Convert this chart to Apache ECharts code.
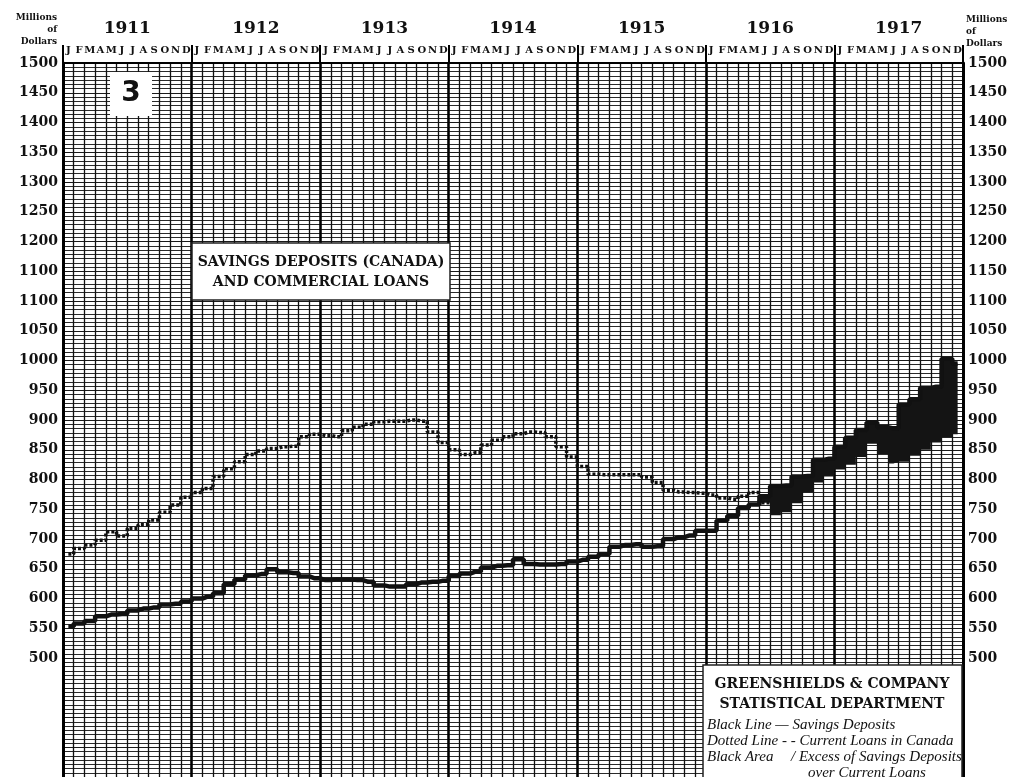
<!DOCTYPE html>
<html>
<head>
<meta charset="utf-8">
<title>Savings Deposits (Canada) and Commercial Loans</title>
<script src="https://cdn.jsdelivr.net/npm/echarts@6/dist/echarts.min.js"></script>
<style>
    html, body { margin:0; padding:0; background:#fff; }
    #main { width:1019px; height:777px; }
</style>
</head>
<body>
<div id="main"></div>
<script>
var years = ['1911','1912','1913','1914','1915','1916','1917'];
var monthLetters = ['J','F','M','A','M','J','J','A','S','O','N','D'];
// left scale as printed (1150 was printed as 1100)
var leftTicks = ['1500','1450','1400','1350','1300','1250','1200','1100','1100','1050','1000',
                 '950','900','850','800','750','700','650','600','550','500'];
var rightTicks = ['1500','1450','1400','1350','1300','1250','1200','1150','1100','1050','1000',
                  '950','900','850','800','750','700','650','600','550','500'];

// monthly values, Jan 1911 .. Dec 1917, millions of dollars
var savings = [
    553,558,562,570,573,574,580,583,585,590,591,595,
    600,603,609,624,632,639,641,649,644,643,637,634,
    631,632,632,631,628,622,620,620,624,627,628,630,
    638,642,645,652,655,656,666,658,657,657,658,662,
    665,670,675,687,690,691,687,688,700,703,706,714,
    714,731,739,752,758,772,789,790,805,806,833,835,
    855,870,883,896,888,886,926,935,954,956,1003,995
];
var loans = [
    675,684,690,698,712,705,718,724,732,745,757,770,
    778,785,805,818,830,842,848,852,855,856,872,876,
    874,872,882,888,893,897,898,898,900,898,880,862,
    850,842,845,858,866,872,877,880,879,872,855,838,
    822,809,808,808,808,808,804,795,782,779,778,777,
    774,769,767,772,778,761,740,745,760,778,795,805,
    817,825,838,860,843,827,830,840,850,862,871,876
];

// category keys for each month, label shows only the letter
var monthKeys = [];
years.forEach(function (y) {
    monthLetters.forEach(function (m, i) { monthKeys.push(y + '-' + i); });
});

// black area = excess of savings over loans, stacked on the lower of the two
var areaBase = savings.map(function (s, i) { return Math.min(s, loans[i]); });
var areaExcess = savings.map(function (s, i) { return Math.max(s - loans[i], 0); });
// the dotted line disappears into the black area once savings pass loans
var loansLine = loans.map(function (v, i) { return i <= 65 ? v : null; });

var serif = 'DejaVu Serif';
var myChart = echarts.init(document.getElementById('main'));

myChart.setOption({
    backgroundColor: '#fff',
    animation: false,
    grid: { left: 63, right: 56, top: 63, height: 717 },
    xAxis: [
        {   // months
            type: 'category',
            position: 'top',
            data: monthKeys,
            boundaryGap: true,
            axisLine: { show: true, lineStyle: { color: '#000', width: 2 } },
            axisTick: { show: false },
            axisLabel: {
                interval: 0, margin: 8,
                fontFamily: serif, fontWeight: 'bold', fontSize: 10, color: '#111',
                formatter: function (v, idx) { return monthLetters[idx % 12]; }
            },
            splitLine: { show: true, interval: 0, lineStyle: { color: '#111', width: 1.3 } }
        },
        {   // year boundaries
            type: 'value',
            position: 'top',
            min: 0, max: 84, interval: 12,
            axisLine: { show: false },
            axisTick: { show: true, inside: false, length: 18, lineStyle: { color: '#000', width: 2 } },
            axisLabel: { show: false },
            splitLine: { show: true, lineStyle: { color: '#000', width: 2.5 } }
        },
        {   // years
            type: 'category',
            position: 'top',
            offset: 22,
            data: years,
            axisLine: { show: false },
            axisTick: { show: false },
            axisLabel: { interval: 0, margin: 4, fontFamily: serif, fontWeight: 'bold', fontSize: 17, color: '#111' },
            splitLine: { show: false }
        }
    ],
    yAxis: [
        {
            type: 'value',
            min: 300, max: 1500, interval: 50,
            axisLine: { show: true, lineStyle: { color: '#000', width: 3 } },
            axisTick: { show: false },
            axisLabel: {
                margin: 5, fontFamily: serif, fontWeight: 'bold', fontSize: 14, color: '#111',
                formatter: function (v) {
                    if (v < 500) return '';
                    return leftTicks[Math.round((1500 - v) / 50)];
                }
            },
            splitLine: { show: true, lineStyle: { color: '#1a1a1a', width: 1.1 } },
            minorTick: { show: false, splitNumber: 7 },
            minorSplitLine: { show: true, lineStyle: { color: '#2a2a2a', width: 1.1 } }
        },
        {
            type: 'value',
            position: 'right',
            min: 300, max: 1500, interval: 50,
            axisLine: { show: true, lineStyle: { color: '#000', width: 3 } },
            axisTick: { show: false },
            axisLabel: {
                margin: 5, fontFamily: serif, fontWeight: 'bold', fontSize: 14, color: '#111',
                formatter: function (v) {
                    if (v < 500) return '';
                    return rightTicks[Math.round((1500 - v) / 50)];
                }
            },
            splitLine: { show: false }
        }
    ],
    series: [
        {
            name: 'base',
            type: 'line',
            stack: 'gap',
            step: 'middle',
            data: areaBase,
            showSymbol: false,
            lineStyle: { width: 0, opacity: 0 },
            silent: true,
            z: 3
        },
        {
            name: 'Excess of Savings Deposits over Current Loans',
            type: 'line',
            stack: 'gap',
            step: 'middle',
            data: areaExcess,
            showSymbol: false,
            lineStyle: { width: 0 },
            areaStyle: { color: '#141414', opacity: 1 },
            z: 3
        },
        {
            name: 'Current Loans in Canada',
            type: 'line',
            step: 'middle',
            data: loansLine,
            showSymbol: false,
            lineStyle: { color: '#111', width: 3.5, type: [3, 2] },
            z: 4
        },
        {
            name: 'Savings Deposits',
            type: 'line',
            step: 'middle',
            data: savings,
            showSymbol: false,
            lineStyle: { color: '#111', width: 4.5 },
            z: 5
        }
    ],
    graphic: [
        // "Millions of Dollars" captions
        { type: 'text', x: 57, y: 12, z: 100,
          style: { text: 'Millions\nof\nDollars', align: 'right', fill: '#111',
                   font: 'bold 9px "DejaVu Serif"', lineHeight: 12 } },
        { type: 'text', x: 966, y: 14, z: 100,
          style: { text: 'Millions\nof\nDollars', align: 'left', fill: '#111',
                   font: 'bold 9px "DejaVu Serif"', lineHeight: 12 } },
        // chart number
        { type: 'rect', shape: { x: 110, y: 72, width: 42, height: 44 }, z: 100,
          style: { fill: '#fff' } },
        { type: 'text', x: 131, y: 94, z: 101,
          style: { text: '3', align: 'center', verticalAlign: 'middle', fill: '#111',
                   font: 'bold 28px "DejaVu Sans"' } },
        // title box
        { type: 'rect', shape: { x: 192, y: 243, width: 258, height: 57 }, z: 100,
          style: { fill: '#fff', stroke: '#222', lineWidth: 1.5 } },
        { type: 'text', x: 321, y: 272, z: 101,
          style: { text: 'SAVINGS DEPOSITS (CANADA)\nAND COMMERCIAL LOANS', align: 'center',
                   verticalAlign: 'middle', fill: '#111', lineHeight: 20,
                   font: 'bold 14px "DejaVu Serif"' } },
        // legend / credit box
        { type: 'rect', shape: { x: 703, y: 665, width: 259, height: 120 }, z: 100,
          style: { fill: '#fff', stroke: '#222', lineWidth: 1.5 } },
        { type: 'text', x: 832, y: 684, z: 101,
          style: { text: 'GREENSHIELDS & COMPANY', align: 'center', verticalAlign: 'middle',
                   fill: '#111', font: 'bold 14px "DejaVu Serif"' } },
        { type: 'text', x: 832, y: 704, z: 101,
          style: { text: 'STATISTICAL DEPARTMENT', align: 'center', verticalAlign: 'middle',
                   fill: '#111', font: 'bold 14px "DejaVu Serif"' } },
        { type: 'text', x: 707, y: 725, z: 101,
          style: { text: 'Black Line \u2014 Savings Deposits', verticalAlign: 'middle',
                   fill: '#111', font: 'italic 15px "Liberation Serif"' } },
        { type: 'text', x: 707, y: 741, z: 101,
          style: { text: 'Dotted Line - - Current Loans in Canada', verticalAlign: 'middle',
                   fill: '#111', font: 'italic 15px "Liberation Serif"' } },
        { type: 'text', x: 707, y: 757, z: 101,
          style: { text: 'Black Area', verticalAlign: 'middle',
                   fill: '#111', font: 'italic 15px "Liberation Serif"' } },
        { type: 'text', x: 791, y: 757, z: 101,
          style: { text: '/ Excess of Savings Deposits', verticalAlign: 'middle',
                   fill: '#111', font: 'italic 15px "Liberation Serif"' } },
        { type: 'text', x: 808, y: 773, z: 101,
          style: { text: 'over Current Loans', verticalAlign: 'middle',
                   fill: '#111', font: 'italic 15px "Liberation Serif"' } }
    ]
});
</script>
</body>
</html>
